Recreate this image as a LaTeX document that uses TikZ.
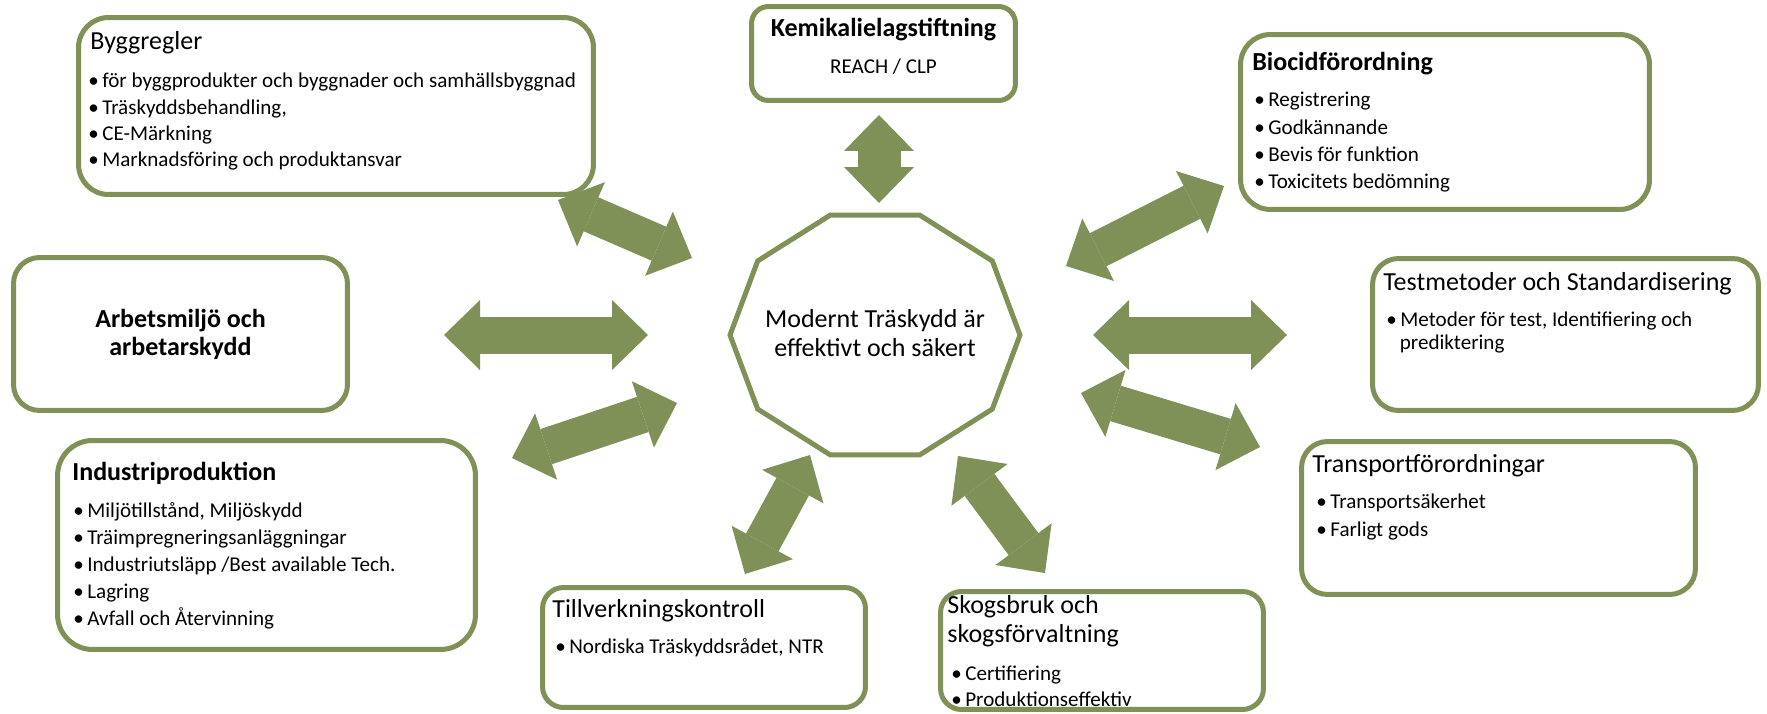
\documentclass[tikz,border=0pt]{standalone}
\usepackage{fontspec}
\setmainfont{Carlito}
\usetikzlibrary{arrows.meta}

\definecolor{leafgreen}{RGB}{127,145,87}
\newcommand\itembul{\textbullet\hspace{0.07cm}}

\tikzset{
  frame/.style={draw=leafgreen, line width=0.1cm, fill=white, inner sep=0pt},
  head/.style={font=\fontsize{14.8}{17}\selectfont, inner sep=0pt, anchor=base west},
  headb/.style={head, font=\fontsize{14.8}{17}\selectfont\bfseries},
  item/.style={font=\fontsize{12}{14}\selectfont, inner sep=0pt, anchor=base west},
  twoway/.style={draw=leafgreen, line width=0.74cm,
    {Triangle[length=0.72cm,width=1.4cm,line width=0pt]}-{Triangle[length=0.72cm,width=1.4cm,line width=0pt]}},
}

\begin{document}
\begin{tikzpicture}[x=0.02cm, y=-0.02cm]
\useasboundingbox (0,0) rectangle (1767,713);

% centre
\draw[leafgreen, line width=0.1cm] (1020,335)
  \foreach \a in {36,72,...,324} { -- ({875+145*cos(\a)},{335+126*sin(\a)}) } -- cycle;
\node[align=center, inner sep=0pt, font=\fontsize{14.8}{16.5}\selectfont] (core) at (875,333)
  {Modernt Träskydd är\\effektivt och säkert};

% Byggregler
\node[frame, rounded corners=0.6cm, minimum width=10.3cm, minimum height=3.54cm] (bygg) at (336,106) {};
\node[head] (bygg-t) at (90,50) {Byggregler};
\foreach \txt [count=\i] in {för byggprodukter och byggnader och samhällsbyggnad, {Träskyddsbehandling,}, CE-Märkning, Marknadsföring och produktansvar}
  \node[item] (bygg-\i) at (88,{88+(\i-1)*26.3}) {\itembul\txt};

% Kemikalielagstiftning
\node[frame, rounded corners=0.34cm, minimum width=5.28cm, minimum height=1.88cm] (kemi) at (883.5,53.5) {};
\node[headb, anchor=base] (kemi-t) at (883.5,37) {Kemikalielagstiftning};
\node[item, anchor=base] (kemi-1) at (883.5,73) {REACH / CLP};

% Biocidförordning
\node[frame, rounded corners=0.6cm, minimum width=8.18cm, minimum height=3.5cm] (bio) at (1445,122) {};
\node[headb] (bio-t) at (1252,71) {Biocidförordning};
\foreach \txt [count=\i] in {Registrering, Godkännande, Bevis för funktion, Toxicitets bedömning}
  \node[item] (bio-\i) at (1254,{107+(\i-1)*27.3}) {\itembul\txt};

% Arbetsmiljö
\node[frame, rounded corners=0.52cm, minimum width=6.68cm, minimum height=3.06cm] (arb) at (180.5,334) {};
\node[align=center, inner sep=0pt, font=\fontsize{14.8}{15.9}\selectfont\bfseries] (arb-t) at (180.5,334)
  {Arbetsmiljö och\\arbetarskydd};

% Testmetoder
\node[frame, rounded corners=0.52cm, minimum width=7.72cm, minimum height=3.04cm] (test) at (1565.5,334.5) {};
\node[head] (test-t) at (1383,290) {Testmetoder och Standardisering};
\node[item] (test-1) at (1386,326) {\itembul Metoder för test, Identifiering och};
\node[item] (test-2) at (1399.5,349) {prediktering};

% Industriproduktion
\node[frame, rounded corners=0.7cm, minimum width=8.36cm, minimum height=4.18cm] (ind) at (266.5,545) {};
\node[headb] (ind-t) at (72,480) {Industriproduktion};
\foreach \txt [count=\i] in {{Miljötillstånd, Miljöskydd}, Träimpregneringsanläggningar, Industriutsläpp /Best available Tech., Lagring, Avfall och Återvinning}
  \node[item] (ind-\i) at (73,{517+(\i-1)*27}) {\itembul\txt};

% Tillverkningskontroll
\node[frame, rounded corners=0.42cm, minimum width=6.46cm, minimum height=2.4cm] (till) at (704,647.5) {};
\node[head] (till-t) at (552,617) {Tillverkningskontroll};
\node[item] (till-1) at (555,653) {\itembul Nordiska Träskyddsrådet, NTR};

% Skogsbruk
\node[frame, rounded corners=0.42cm, minimum width=6.46cm, minimum height=2.36cm] (skog) at (1102,650.5) {};
\node[head] (skog-t) at (947,613) {Skogsbruk och};
\node[head] (skog-t2) at (947,642) {skogsförvaltning};
\foreach \txt [count=\i] in {Certifiering, Produktionseffektiv}
  \node[item] (skog-\i) at (951,{680+(\i-1)*26}) {\itembul\txt};

% Transportförordningar
\node[frame, rounded corners=0.52cm, minimum width=7.88cm, minimum height=3.06cm] (trans) at (1498.5,518) {};
\node[head] (trans-t) at (1312,472) {Transportförordningar};
\foreach \txt [count=\i] in {Transportsäkerhet, Farligt gods}
  \node[item] (trans-\i) at (1316,{508+(\i-1)*28}) {\itembul\txt};

% arrows
\coordinate (kemi-a) at (879,115);   \coordinate (kemi-b) at (879,203);
\coordinate (bygg-a) at (558,200);   \coordinate (bygg-b) at (692,258);
\coordinate (arb-a) at (444,335);    \coordinate (arb-b) at (648,335);
\coordinate (ind-a) at (512,458);    \coordinate (ind-b) at (677,403);
\coordinate (till-a) at (745,574);   \coordinate (till-b) at (810,455);
\coordinate (skog-a) at (958,456);   \coordinate (skog-b) at (1045,573);
\coordinate (trans-a) at (1081,393); \coordinate (trans-b) at (1260,447);
\coordinate (test-a) at (1093,335);  \coordinate (test-b) at (1287,335);
\coordinate (bio-a) at (1066,266);   \coordinate (bio-b) at (1224,186);

\draw[twoway, line width=0.86cm] (kemi-a) -- (kemi-b);
\foreach \n in {bygg,arb,ind,till,skog,trans,test,bio}
  \draw[twoway] (\n-a) -- (\n-b);
\end{tikzpicture}
\end{document}
